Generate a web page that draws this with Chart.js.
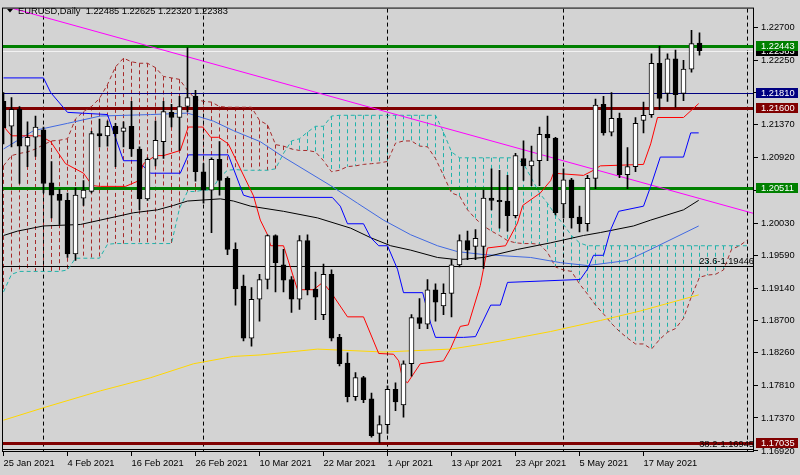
<!DOCTYPE html>
<html><head><meta charset="utf-8">
<script src="https://cdn.jsdelivr.net/npm/chart.js@4.4.1/dist/chart.umd.min.js"></script>
<style>html,body{margin:0;padding:0;background:#d3d3d3;}canvas{display:block;}</style>
</head><body>
<canvas id="c" width="800" height="475" style="width:800px;height:475px"></canvas>
<script>
// ---------------- DATA ----------------
const symbol = 'EURUSD';
const period = 'Daily';

const opens = [1.2169,1.2135,1.2158,1.2108,1.2120,1.2130,1.2058,1.2042,1.2034,1.1961,
1.2037,1.2046,1.2125,1.2122,1.2135,1.2128,1.2135,1.2104,1.2036,1.2090,
1.2114,1.2154,1.2147,1.2162,1.2176,1.2073,1.2048,1.2090,1.2064,1.1967,
1.1917,1.1846,1.1899,1.1926,1.1986,1.1946,1.1926,1.1899,1.1979,1.1913,
1.1878,1.1933,1.1847,1.1812,1.1766,1.1792,1.1763,1.1716,1.1728,1.1776,
1.1755,1.1811,1.1874,1.1865,1.1912,1.1890,1.1907,1.1946,1.1979,1.1971,
1.1971,1.2037,1.2034,1.2033,1.2013,1.2091,1.2081,1.2088,1.2124,1.2119,
1.2029,1.2062,1.2011,1.2002,1.2064,1.2165,1.2127,1.2146,1.2069,1.2080,
1.2143,1.2151,1.2221,1.2180,1.2227,1.2180,1.2213,1.22485];
const highs = [1.2181,1.2174,1.2162,1.2141,1.2149,1.2134,1.2087,1.2049,1.2044,1.2051,
1.2061,1.2128,1.2145,1.2142,1.2139,1.2141,1.2169,1.2107,1.2092,1.2142,
1.2169,1.2165,1.2176,1.2242,1.2184,1.2084,1.2092,1.2114,1.2066,1.1976,
1.1932,1.1915,1.1933,1.1987,1.1987,1.1967,1.1930,1.1986,1.1987,1.1936,
1.1947,1.1939,1.1851,1.1826,1.1799,1.1794,1.1771,1.1740,1.1781,1.1785,
1.1815,1.1878,1.1900,1.1926,1.1920,1.1920,1.1953,1.1987,1.1992,1.1994,
1.2048,1.2077,1.2075,1.2068,1.2098,1.2115,1.2108,1.2134,1.2149,1.2120,
1.2077,1.2064,1.2026,1.2068,1.2172,1.2176,1.2181,1.2153,1.2106,1.2147,
1.2168,1.2234,1.2244,1.2234,1.2239,1.2225,1.2266,1.22625];
const lows = [1.2111,1.2107,1.2057,1.2080,1.2094,1.2044,1.2010,1.2001,1.1956,1.1952,
1.2027,1.2044,1.2107,1.2108,1.2080,1.2107,1.2094,1.2021,1.2034,1.2081,
1.2091,1.2134,1.2102,1.2155,1.2060,1.2030,1.1990,1.2041,1.1960,1.1891,
1.1842,1.1835,1.1869,1.1913,1.1909,1.1909,1.1881,1.1885,1.1905,1.1871,
1.1871,1.1842,1.1808,1.1759,1.1761,1.1758,1.1711,1.1703,1.1716,1.1747,
1.1738,1.1794,1.1859,1.1859,1.1869,1.1878,1.1875,1.1943,1.1953,1.1953,
1.1941,1.2021,1.1996,1.1992,1.2010,1.2061,1.2054,1.2054,1.2088,1.2014,
1.2010,1.1996,1.1991,1.1992,1.2050,1.2123,1.2122,1.2065,1.2050,1.2073,
1.2126,1.2147,1.2158,1.2169,1.2161,1.2170,1.2209,1.22320];
const closes = [1.2133,1.2158,1.2108,1.2120,1.2134,1.2057,1.2041,1.2034,1.1961,1.2041,
1.2048,1.2125,1.2122,1.2135,1.2125,1.2133,1.2104,1.2036,1.2090,1.2116,
1.2155,1.2147,1.2162,1.2174,1.2073,1.2048,1.2090,1.2061,1.1967,1.1913,
1.1846,1.1899,1.1926,1.1986,1.1949,1.1925,1.1899,1.1979,1.1912,1.1902,
1.1933,1.1846,1.1811,1.1766,1.1792,1.1762,1.1713,1.1728,1.1776,1.1759,
1.1811,1.1874,1.1866,1.1912,1.1895,1.1907,1.1946,1.1979,1.1966,1.1982,
1.2037,1.2034,1.2032,1.2013,1.2095,1.2081,1.2088,1.2124,1.2119,1.2017,
1.2062,1.2010,1.2002,1.2064,1.2164,1.2126,1.2146,1.2069,1.2080,1.2139,
1.2150,1.2221,1.2173,1.2227,1.2178,1.2213,1.2248,1.22383];

const dateTickIndex = [0,8,16,24,32,40,48,56,64,72,80];
const dateTickLabels = ['25 Jan 2021','4 Feb 2021','16 Feb 2021','26 Feb 2021','10 Mar 2021','22 Mar 2021','1 Apr 2021','13 Apr 2021','23 Apr 2021','5 May 2021','17 May 2021'];
const monthStartIndex = [5,25,48,70,93];
const priceTicks = [1.22700,1.22250,1.21810,1.21370,1.20920,1.20480,1.20030,1.19590,1.19140,1.18700,1.18260,1.17810,1.17370,1.16920];

// Ichimoku lines [bar index, price]
const tenkan = [[0,1.2135],[1,1.2122],[4.6,1.2122],[5.9,1.2114],[7.75,1.2084],[10,1.2071],[11.1,1.2054],[12.1,1.2053],[15.25,1.2053],[16.75,1.2060],[17.5,1.2084],[19,1.2095],[20,1.2095],[22.1,1.2102],[23.1,1.2134],[24.9,1.2134],[25.9,1.2120],[26.9,1.2120],[28.1,1.2111],[31.25,1.2040],[32.1,1.2007],[33,1.1987],[33.4,1.1972],[35,1.1972],[36.75,1.1912],[38.75,1.1912],[39.9,1.1922],[40.9,1.1909],[43,1.1875],[45,1.1875],[46.9,1.1825],[48.75,1.1824],[49.4,1.1815],[49.9,1.1790],[50.5,1.1785],[52.1,1.1811],[55,1.1815],[55.9,1.1832],[57.1,1.1862],[58.1,1.1864],[59.6,1.1918],[60.5,1.1969],[62.75,1.1972],[64.25,1.2003],[64.9,1.2027],[67.1,1.2044],[68.4,1.2061],[68.75,1.2071],[72.5,1.2068],[73.75,1.2075],[74.6,1.2081],[80,1.2083],[80.9,1.2111],[81.75,1.2147],[85,1.2147],[86.9,1.2166]];
const kijun = [[0,1.2201],[5,1.2201],[5.9,1.2181],[8,1.2154],[13,1.2151],[15,1.2088],[16.75,1.2088],[18.4,1.2071],[22.1,1.2071],[23.1,1.2096],[28.1,1.2096],[30,1.2041],[30.9,1.2038],[41.1,1.2038],[42.1,1.2026],[43,1.2002],[45,1.2002],[45.9,1.1983],[46.9,1.1972],[48,1.1972],[49.25,1.1940],[50,1.1908],[52.4,1.1908],[53.4,1.1866],[54,1.1847],[57.5,1.1847],[59,1.1848],[60.9,1.1891],[62.1,1.1891],[63,1.1922],[72.1,1.1926],[73,1.1940],[73.75,1.1959],[75,1.1959],[75.9,1.1994],[76.9,1.2019],[80,1.2026],[80.9,1.2053],[82.1,1.2093],[85,1.2093],[85.9,1.2126],[86.9,1.2126]];
const spanA = [1.1909,1.1933,1.1937,1.1937,1.1937,1.1937,1.1937,1.1937,1.1939,1.1955,
1.1955,1.1955,1.1955,1.1974,1.1975,1.1975,1.1975,1.1975,1.1975,1.1975,
1.1975,1.1975,1.2023,1.2046,1.2046,1.2048,1.2048,1.2065,1.2075,1.2076,
1.2075,1.2075,1.2075,1.2075,1.2077,1.2098,1.2115,1.2118,1.2127,1.2135,
1.2135,1.2149,1.2150,1.2150,1.2150,1.2150,1.2150,1.2150,1.2150,1.2150,
1.2150,1.2150,1.2150,1.2150,1.2150,1.2127,1.2100,1.2092,1.2092,1.2092,
1.2092,1.2092,1.2092,1.2092,1.2092,1.2084,1.2064,1.2044,1.2030,1.2014,
1.2001,1.1986,1.1976,1.1972,1.1972,1.1972,1.1972,1.1972,1.1972,1.1972,
1.1972,1.1972,1.1972,1.1972,1.1972,1.1972,1.1972,1.1972,1.1972,1.1972,
1.1972,1.1972,1.1972,1.1972];
const spanB = [1.2081,1.2095,1.2098,1.2100,1.2104,1.2110,1.2115,1.2116,1.2118,1.2145,
1.2155,1.2162,1.2173,1.2192,1.2216,1.2228,1.2223,1.2221,1.2221,1.2215,
1.2203,1.2201,1.2199,1.2184,1.2172,1.2169,1.2168,1.2162,1.2161,1.2161,
1.2161,1.2161,1.2143,1.2137,1.2110,1.2108,1.2104,1.2102,1.2102,1.2100,
1.2088,1.2073,1.2075,1.2080,1.2081,1.2083,1.2084,1.2085,1.2087,1.2112,
1.2115,1.2115,1.2108,1.2107,1.2091,1.2068,1.2044,1.2040,1.2021,1.2009,
1.1999,1.1992,1.1986,1.1979,1.1976,1.1975,1.1975,1.1974,1.1963,1.1943,
1.1939,1.1937,1.1920,1.1906,1.1891,1.1879,1.1866,1.1855,1.1846,1.1838,
1.1838,1.1831,1.1844,1.1854,1.1859,1.1873,1.1903,1.1929,1.1932,1.1933,
1.1939,1.1967,1.1972,1.1980];

// Moving averages [bar index, price]
const maBlack = [[0,1.1986],[1.75,1.1992],[5,1.1999],[9.6,1.2001],[12.1,1.2007],[16.25,1.2017],[19.25,1.2021],[21.25,1.2027],[23,1.2033],[27.1,1.2036],[28.75,1.2033],[30.9,1.2026],[35,1.2019],[39.25,1.2010],[43.4,1.1996],[45.9,1.1983],[48.4,1.1972],[50.9,1.1966],[54.25,1.1956],[56.75,1.1953],[60,1.1956],[64.25,1.1967],[68.4,1.1976],[72.5,1.1986],[74.6,1.1990],[78.75,1.1999],[80.9,1.2007],[85,1.2021],[86.9,1.2034]];
const maBlue = [[0,1.2104],[3.75,1.2129],[8,1.2139],[12.1,1.2149],[18.4,1.2151],[23,1.2153],[26.25,1.2142],[28.75,1.2129],[32.1,1.2114],[35,1.2093],[40.9,1.2054],[44.25,1.2030],[47.5,1.2007],[50.9,1.1987],[54.25,1.1972],[56.75,1.1964],[60,1.1960],[65.9,1.1956],[69.6,1.1949],[73,1.1945],[75.9,1.1949],[78,1.1952],[80.9,1.1967],[86.9,1.1999]];
const maYellow = [[0,1.1734],[5,1.1751],[12.1,1.1774],[18.4,1.1792],[23.75,1.1811],[28.75,1.1821],[32.1,1.1823],[39.25,1.1831],[47.5,1.1827],[55.9,1.1831],[60,1.1838],[62.1,1.1842],[68.4,1.1855],[74.6,1.1870],[79.6,1.1883],[86.9,1.1905]];
const trendLine = [[0,1.22993],[93.8,1.2016]];

// Horizontal levels
const levelValues = [1.22443, 1.21810, 1.21600, 1.20511, 1.19446, 1.17035, 1.16945];
const fibTexts = ['', '', '', '', '23.6-1.19446', '', '38.2-1.16945'];

// ---------------- STYLES ----------------
const levelStyles = [
  {color:'#008000', width:3, box:true},
  {color:'#000080', width:1, box:true},
  {color:'#800000', width:3, box:true},
  {color:'#008000', width:3, box:true},
  {color:'#000000', width:1, box:false},
  {color:'#800000', width:3, box:true},
  {color:'#000000', width:1, box:false}
];
const FONT = '"Liberation Sans", Arial, sans-serif';
const FS = 9.3;
const TEAL = '#20b2aa', BROWN = '#a52a2a';

const N = opens.length;
const idx = opens.map((_, i) => i);
const pairs = a => a.map(p => ({x:p[0], y:p[1]}));
const series = a => a.map((v, i) => ({x:i, y:v}));
const lineDs = (data, color, order, dash) => ({type:'line', data, borderColor:color, borderWidth:1, pointRadius:0, fill:false, tension:0, order, borderDash: dash || []});

const cloudPlugin = {
  id:'cloud',
  beforeDatasetsDraw(chart) {
    const {ctx, chartArea:a, scales:{x, y}} = chart;
    ctx.save();
    ctx.beginPath(); ctx.rect(a.left, a.top, a.right - a.left, a.bottom - a.top); ctx.clip();
    // cloud hatching
    ctx.lineWidth = 1; ctx.setLineDash([4,3]);
    for (let i = 0; i < spanA.length; i++) {
      const px = Math.round(x.getPixelForValue(i) - 0.5) + 0.5;
      const ya = y.getPixelForValue(spanA[i]), yb = y.getPixelForValue(spanB[i]);
      ctx.strokeStyle = spanA[i] >= spanB[i] ? TEAL : BROWN;
      ctx.beginPath(); ctx.moveTo(px, Math.min(ya, yb)); ctx.lineTo(px, Math.max(ya, yb)); ctx.stroke();
    }
    // month separators
    ctx.strokeStyle = '#000'; ctx.setLineDash([4,3]);
    monthStartIndex.forEach(m => {
      const px = Math.round(x.getPixelForValue(m) - 0.5) + 0.5;
      ctx.beginPath(); ctx.moveTo(px, a.top); ctx.lineTo(px, a.bottom); ctx.stroke();
    });
    ctx.setLineDash([]);
    // bid line
    const bid = closes[N - 1];
    let yb = Math.round(y.getPixelForValue(bid)) + 0.5;
    ctx.strokeStyle = '#f2f2f2'; ctx.lineWidth = 1;
    ctx.beginPath(); ctx.moveTo(a.left, yb); ctx.lineTo(a.right, yb); ctx.stroke();
    // levels
    levelValues.forEach((v, k) => {
      const st = levelStyles[k];
      const py = Math.round(y.getPixelForValue(v)) + 0.5;
      ctx.strokeStyle = st.color; ctx.lineWidth = st.width;
      ctx.beginPath(); ctx.moveTo(a.left, py); ctx.lineTo(a.right, py); ctx.stroke();
    });
    ctx.restore();
  },
  afterDatasetsDraw(chart) {
    const {ctx, chartArea:a, scales:{y}} = chart;
    ctx.save();
    ctx.font = FS + 'px ' + FONT; ctx.fillStyle = '#000'; ctx.textAlign = 'right'; ctx.textBaseline = 'alphabetic';
    levelValues.forEach((v, k) => {
      if (!fibTexts[k]) return;
      const py = y.getPixelForValue(v);
      ctx.fillText(fibTexts[k], a.right, py - 2);
    });
    // frame
    ctx.strokeStyle = '#000'; ctx.lineWidth = 1;
    ctx.strokeRect(a.left + 0.5, a.top - 0.5, a.right - a.left - 1, a.bottom - a.top);
    ctx.restore();
  },
  afterDraw(chart) {
    const {ctx, chartArea:a, scales:{y}} = chart;
    ctx.save();
    ctx.font = FS + 'px ' + FONT; ctx.textBaseline = 'middle'; ctx.textAlign = 'left';
    const box = (v, bg) => {
      const py = Math.round(y.getPixelForValue(v));
      ctx.fillStyle = bg; ctx.fillRect(a.right + 2, py - 5, 42, 10);
      ctx.strokeStyle = bg; ctx.lineWidth = 1;
      ctx.fillStyle = '#ffffff'; ctx.fillText(v.toFixed(5), a.right + 7, py + 0.5);
    };
    box(closes[N - 1], '#000000');
    levelValues.forEach((v, k) => { if (levelStyles[k].box) box(v, levelStyles[k].color); });
    // title
    ctx.fillStyle = '#000';
    ctx.beginPath(); ctx.moveTo(7, 9); ctx.lineTo(13, 9); ctx.lineTo(10, 12.5); ctx.closePath(); ctx.fill();
    ctx.textBaseline = 'alphabetic';
    const t = symbol + ',' + period + '  ' + [opens[N-1], highs[N-1], lows[N-1], closes[N-1]].map(v => v.toFixed(5)).join(' ');
    ctx.fillText(t, 18, 14);
    ctx.restore();
  }
};

new Chart(document.getElementById('c'), {
  type: 'bar',
  data: {
    datasets: [
      {type:'bar', data: idx.map(i => ({x:i, y:[opens[i], closes[i]]})), backgroundColor: idx.map(i => closes[i] >= opens[i] ? '#ffffff' : '#000000'), borderColor:'#000000', borderWidth:1, borderSkipped:false, barThickness:5, grouped:false, minBarLength:1, order:0},
      {type:'bar', data: idx.map(i => ({x:i, y:[lows[i], highs[i]]})), backgroundColor:'#000000', borderWidth:0, barThickness:1, grouped:false, order:1},
      lineDs(pairs(tenkan), '#ff0000', 2),
      lineDs(pairs(kijun), '#0000ff', 3),
      lineDs(pairs(maBlack), '#000000', 4),
      lineDs(pairs(maBlue), '#4169e1', 5),
      lineDs(pairs(maYellow), '#ffd700', 6),
      lineDs(pairs(trendLine), '#ff00ff', 7),
      lineDs(series(spanA), TEAL, 8, [4,3]),
      lineDs(series(spanB), BROWN, 9, [4,3])
    ]
  },
  options: {
    responsive:false, animation:false, events:[],
    layout:{padding:{left:2, top:3, right:0, bottom:0}},
    plugins:{legend:{display:false}, tooltip:{enabled:false}},
    scales:{
      x:{type:'linear', min:-0.1875, max:93.8125, offset:false,
         grid:{display:true, offset:false, drawOnChartArea:false, drawTicks:true, tickLength:4, color:'#000'},
         border:{display:false},
         ticks:{autoSkip:false, maxRotation:0, minRotation:0, align:'start', padding:2, color:'#000', font:{family:FONT, size:FS},
                callback:(v) => { const k = dateTickIndex.indexOf(v); return k >= 0 ? dateTickLabels[k] : ''; }},
         afterBuildTicks:(s) => { s.ticks = dateTickIndex.map(v => ({value:v})); },
         afterFit:(s) => { s.height = 23; }},
      y:{type:'linear', position:'right', min:1.16906, max:1.22956, beginAtZero:false,
         grid:{display:true, drawOnChartArea:false, drawTicks:true, tickLength:4, color:'#000'},
         border:{display:false},
         ticks:{autoSkip:false, padding:3, color:'#000', font:{family:FONT, size:FS}, callback:(v) => Number(v).toFixed(5)},
         afterBuildTicks:(s) => { s.ticks = priceTicks.map(v => ({value:v})); },
         afterFit:(s) => { s.width = 46; }}
    }
  },
  plugins:[cloudPlugin]
});
</script>
</body></html>
